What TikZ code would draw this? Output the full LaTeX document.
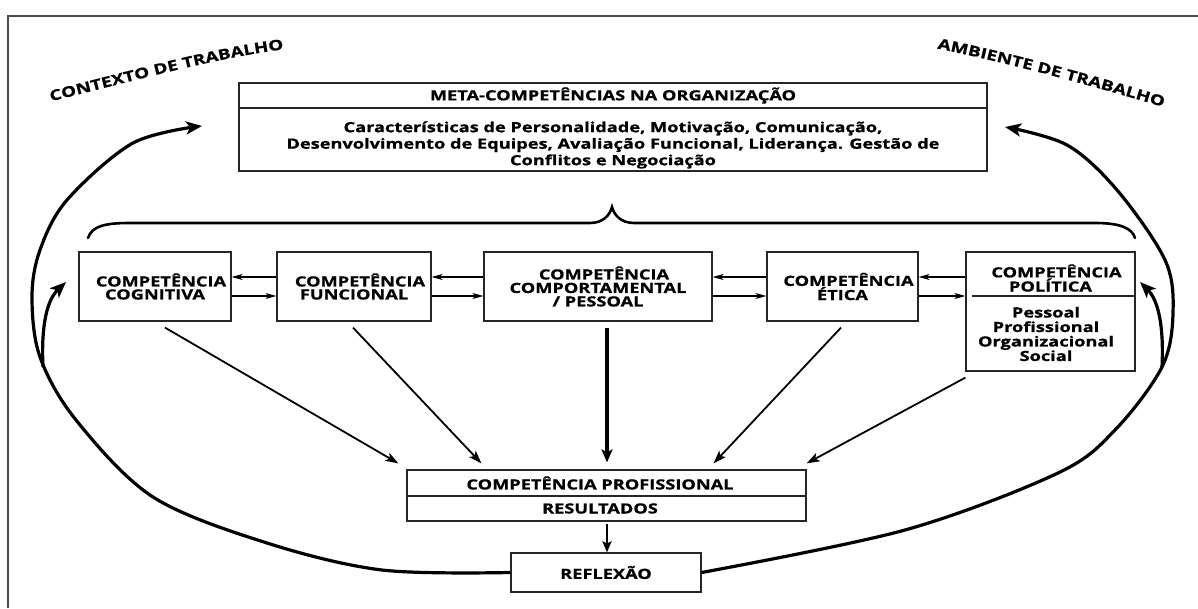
\documentclass[tikz,border=0pt]{standalone}
\usepackage{fontspec}
\setmainfont{Open Sans}[FakeStretch=1.3, BoldFeatures={FakeBold=0.9}]
\usetikzlibrary{arrows.meta,calc,decorations.text}
\newcommand\bxf{\bfseries\fontsize{14}{13}\selectfont}
\newcommand\arcf{\bfseries\fontsize{14.5}{16}\selectfont}
\begin{document}
\begin{tikzpicture}[x=1pt,y=1pt]
\tikzset{
  boxst/.style={draw=black!85, line width=1.2pt, inner sep=0pt},
  rowbox/.style={boxst, minimum height=69pt, align=center, font=\bxf},
  divst/.style={draw=black!85, line width=1.2pt},
  harrow/.style={line width=1.3pt, -{Stealth[length=11pt,width=6pt,inset=3pt]}},
  darrow/.style={line width=1.8pt, -{Stealth[length=13pt,width=9pt,inset=3pt]}},
  tarrow/.style={line width=4pt, -{Stealth[length=13pt,width=11pt,inset=3pt]}},
  parrow/.style={line width=2.6pt, -{Stealth[length=11pt,width=9pt,inset=2pt]}},
  bigcurve/.style={line width=3.2pt, -{Stealth[length=16pt,width=13pt,inset=4pt]}},
  txt/.style={inner sep=0pt, font=\bxf},
}
\useasboundingbox (0,0) rectangle (1198,608);
% frame
\draw[line width=1.3pt, black!70] (8,0) -- (8,592) -- (1198,592);
% arc texts
\path[decorate, decoration={text along path, text align=center, text={|\arcf|CONTEXTO DE TRABALHO}}]
  (40,504) .. controls (130,526) and (220,552) .. (295,560);
\path[decorate, decoration={text along path, text align=center, text={|\arcf|AMBIENTE DE TRABALHO}}]
  (930,561) .. controls (1010,545) and (1090,523) .. (1170,499);
% meta box
\node[boxst, minimum width=748pt, minimum height=88pt] (meta) at (613,481) {};
\draw[divst] (meta.west |- 0,500) -- (meta.east |- 0,500);
\node[txt] (metat) at (613,512.5) {META-COMPETÊNCIAS NA ORGANIZAÇÃO};
\node[txt, align=center, font=\bfseries\fontsize{14}{16.5}\selectfont] (metab) at (613,463)
  {Características de Personalidade, Motivação, Comunicação,\\
   Desenvolvimento de Equipes, Avaliação Funcional, Liderança. Gestão de\\
   Conflitos e Negociação};
% brace
\draw[line width=2.6pt, line cap=round] (88,370) .. controls (92,382) and (105,385) .. (130,385)
  -- (590,385) .. controls (603,385) and (610,393) .. (612,401)
  .. controls (614,393) and (621,385) .. (634,385) -- (1095,385)
  .. controls (1120,385) and (1132,380) .. (1135,370);
% row boxes
\node[rowbox, minimum width=152pt] (cog) at (155,321.5) {\hspace*{12pt}COMPETÊNCIA\\COGNITIVA};
\node[rowbox, minimum width=154pt] (fun) at (354,321.5) {\hspace*{12pt}COMPETÊNCIA\\FUNCIONAL};
\node[rowbox, minimum width=228pt, font=\bfseries\fontsize{14}{13.5}\selectfont] (com) at (598,321.5)
  {\hspace*{12pt}COMPETÊNCIA\\COMPORTAMENTAL\\/ PESSOAL};
\node[rowbox, minimum width=151pt] (eti) at (842.5,321.5) {\hspace*{12pt}COMPETÊNCIA\\ÉTICA};
\node[boxst, minimum width=169pt, minimum height=119pt] (pol) at (1050.5,296.5) {};
\draw[divst] (972,312) -- (pol.east |- 0,312);
\node[txt, align=center] (polt) at (1050.5,330) {\hspace*{12pt}COMPETÊNCIA\\POLÍTICA};
\node[txt, align=center, font=\bfseries\fontsize{14}{14.5}\selectfont] (polb) at (1046,274)
  {Pessoal\\Profissional\\Organizacional\\Social};
% bottom boxes
\node[boxst, minimum width=399pt, minimum height=51pt] (pro) at (606.5,112.5) {};
\draw[divst] (pro.west |- 0,112) -- (pro.east |- 0,112);
\node[txt] (prot) at (600,125) {COMPETÊNCIA PROFISSIONAL};
\node[txt] (pror) at (600,99.5) {RESULTADOS};
\node[boxst, minimum width=190pt, minimum height=39pt, font=\bxf] (ref) at (606,35.5) {REFLEXÃO};
% horizontal arrows
\draw[harrow] ([yshift=9.5pt]fun.west) -- ([yshift=9.5pt]cog.east);
\draw[harrow] ([yshift=-9.5pt]cog.east) -- ([yshift=-9.5pt]fun.west);
\draw[harrow] ([yshift=9.5pt]com.west) -- ([yshift=9.5pt]fun.east);
\draw[harrow] ([yshift=-9.5pt]fun.east) -- ([yshift=-9.5pt]com.west);
\draw[harrow] ([yshift=9.5pt]eti.west) -- ([yshift=9.5pt]com.east);
\draw[harrow] ([yshift=-9.5pt]com.east) -- ([yshift=-9.5pt]eti.west);
\draw[harrow] ([yshift=34.5pt]pol.west) -- ([yshift=9.5pt]eti.east);
\draw[harrow] ([yshift=-9.5pt]eti.east) -- ([yshift=15.5pt]pol.west);
% arrows to professional competence
\draw[darrow] ($(cog.south)+(10,-6)$) -- ($(pro.north west)+(-8,6)$);
\draw[darrow] ($(fun.south)+(-1,-6)$) -- ($(pro.north west)+(75,6)$);
\draw[tarrow] ($(com.south)+(9,-6)$) -- ($(pro.north)+(0.5,7)$);
\draw[darrow] ($(eti.south)+(-1.5,-6)$) -- ($(pro.north east)+(-93,6)$);
\draw[darrow] ($(pol.south west)+(0,-6)$) -- ($(pro.north east)+(0,6)$);
\draw[parrow] ($(pro.south)+(0.5,-2)$) -- ($(ref.north)+(1,0)$);
% big loops
\draw[bigcurve] plot[smooth, tension=0.55] coordinates {(ref.west) (382,38) (267,65) (153,111) (76,188) (40,251) (32,311) (40,358) (67,408) (133,465) (202,482)};
\coordinate (lbr) at (43,241);
\draw[bigcurve] (lbr) .. controls (41,283) and (47,308) .. (66,326);
\draw[bigcurve] plot[smooth, tension=0.55] coordinates {(ref.east) (905,78) (1058,135) (1115,178) (1162,241) (1173,295) (1165,348) (1117,418) (1067,463) (1005,481)};
\coordinate (rbr) at (1162,241);
\draw[bigcurve] (rbr) .. controls (1164,283) and (1158,308) .. (1140,326);
\end{tikzpicture}
\end{document}
